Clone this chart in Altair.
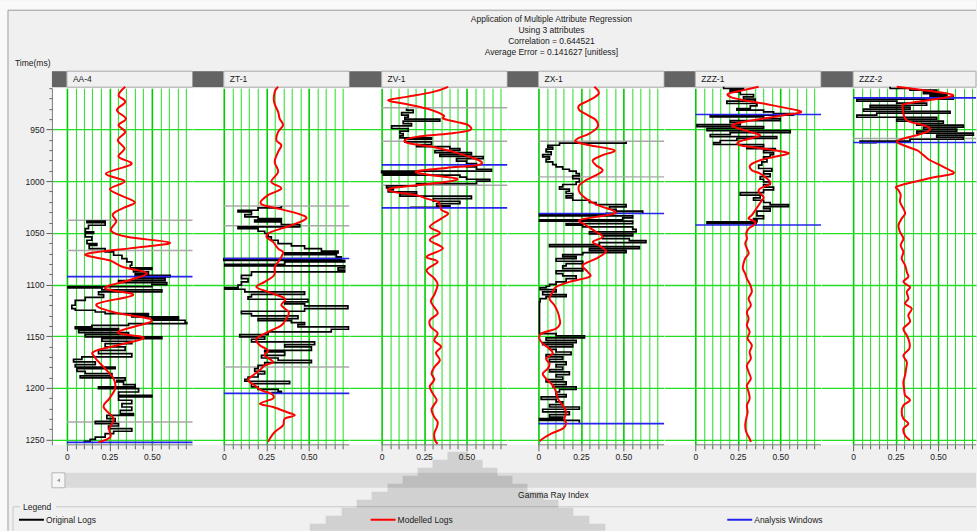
import altair as alt
import pandas as pd

# ---------------------------------------------------------------- text
TITLE_LINES = [
    "Application of Multiple Attribute Regression",
    "Using 3 attributes",
    "Correlation = 0.644521",
    "Average Error = 0.141627 [unitless]",
]
WELL_NAMES = ["AA-4", "ZT-1", "ZV-1", "ZX-1", "ZZZ-1", "ZZZ-2"]
SERIES = ["Original Logs", "Modelled Logs", "Analysis Windows", "Tops"]
X_TICKS = [0.0, 0.05, 0.1, 0.15, 0.2, 0.25, 0.3, 0.35, 0.4, 0.45, 0.5, 0.55, 0.6, 0.65, 0.7]
Y_TICKS = list(range(910, 1251, 10))

# ---------------------------------------------------------------- logs: (time ms, gamma ray index)
AA4_MODEL = [(908.7, 0.343), (916.8, 0.304), (923.2, 0.343), (931.3, 0.294), (939.4, 0.347), (945.8, 0.304),
             (952.3, 0.343), (960.3, 0.300), (968.4, 0.339), (976.5, 0.304), (983.5, 0.380), (992.5, 0.230),
             (1000, 0.340), (1007.5, 0.253), (1014, 0.320), (1020.5, 0.400), (1026, 0.330), (1032, 0.270),
             (1039, 0.290), (1048, 0.260), (1054, 0.360), (1059.5, 0.606), (1064, 0.420), (1070.5, 0.112),
             (1076.5, 0.250), (1083, 0.330), (1089, 0.470), (1095.5, 0.370), (1103.5, 0.224), (1110, 0.390),
             (1118.8, 0.176), (1127, 0.280), (1134.6, 0.500), (1146, 0.300), (1152, 0.450), (1163.6, 0.176),
             (1170, 0.163), (1181.3, 0.225), (1191, 0.275), (1200.6, 0.284), (1210.3, 0.249), (1218.4, 0.216),
             (1229.7, 0.275), (1239.4, 0.249), (1247.5, 0.255), (1252.5, 0.186)]
AA4_ORIG = [(1037.7, 0.225), (1038.7, 0.118), (1040, 0.225), (1042.6, 0.127), (1045.8, 0.108), (1049, 0.157),
            (1050.6, 0.108), (1053.9, 0.147), (1057.1, 0.118), (1060.3, 0.176), (1062, 0.131), (1065.2, 0.225),
            (1068.4, 0.275), (1071.6, 0.324), (1074.8, 0.353), (1078.1, 0.382), (1081.3, 0.373), (1083.9, 0.5),
            (1085.2, 0.392), (1087.7, 0.48), (1089.7, 0.402), (1091, 0.608), (1092.6, 0.402), (1094.2, 0.578),
            (1096.1, 0.304), (1098.1, 0.588), (1100, 0.5), (1101.9, 0.006), (1103.2, 0.206), (1105.2, 0.559),
            (1107.1, 0.186), (1109.7, 0.216), (1112.3, 0.108), (1115.2, 0.049), (1120, 0.029), (1123.2, 0.049),
            (1124.8, 0.167), (1126.5, 0.225), (1128.1, 0.48), (1129.7, 0.382), (1131.3, 0.657), (1132.9, 0.5),
            (1134.5, 0.696), (1136.8, 0.706), (1137.7, 0.363), (1139.4, 0.147), (1141, 0.049), (1142.6, 0.304),
            (1144.2, 0.069), (1146.5, 0.363), (1148.4, 0.108), (1150.6, 0.559), (1152.3, 0.206), (1154.8, 0.382),
            (1157.1, 0.225), (1160.3, 0.343), (1163.6, 0.186), (1166.8, 0.382), (1170, 0.088), (1172.3, 0.039),
            (1174.8, 0.167), (1177.4, 0.049), (1179.7, 0.284), (1181.3, 0.059), (1183.9, 0.108), (1186.1, 0.265),
            (1188.4, 0.078), (1190.3, 0.343), (1192.6, 0.294), (1194.2, 0.333), (1196.8, 0.402), (1199, 0.186),
            (1200.6, 0.422), (1203.9, 0.304), (1207.1, 0.5), (1208.7, 0.304), (1211.9, 0.382), (1215.2, 0.324),
            (1218.4, 0.382), (1221.6, 0.314), (1224.8, 0.392), (1226.5, 0.235), (1229.7, 0.284), (1232.3, 0.167),
            (1234.5, 0.304), (1236.8, 0.245), (1239.4, 0.382), (1241.9, 0.275), (1244.2, 0.225), (1247.5, 0.167),
            (1249.7, 0.137), (1251.6, 0.098)]
AA4_TOPS = [1037.7, 1067.1, 1232.9]
AA4_WINDOWS = [1092.3, 1252.6]

ZT1_MODEL = [(908.7, 0.320), (913.6, 0.300), (923.2, 0.296), (932.9, 0.320), (939.4, 0.329), (945.8, 0.349),
             (952.3, 0.320), (960.3, 0.310), (965.2, 0.339), (971.6, 0.320), (981.3, 0.300), (991, 0.320),
             (1000.6, 0.280), (1007.1, 0.339), (1013.5, 0.261), (1021.6, 0.218), (1026.5, 0.320), (1031.3, 0.437),
             (1036.1, 0.486), (1042.6, 0.398), (1049, 0.280), (1053.9, 0.251), (1058.7, 0.290), (1065.2, 0.320),
             (1068.4, 0.349), (1073.2, 0.339), (1078.1, 0.320), (1082.9, 0.300), (1091, 0.296), (1097.4, 0.241),
             (1102.3, 0.192), (1107.1, 0.261), (1113.5, 0.359), (1120, 0.339), (1126.5, 0.382), (1132.9, 0.369),
             (1139.4, 0.339), (1145.8, 0.261), (1152.3, 0.192), (1158.7, 0.212), (1163.6, 0.261), (1168.4, 0.241),
             (1174.8, 0.290), (1178.1, 0.241), (1182.9, 0.212), (1187.7, 0.173), (1192.6, 0.143), (1197.4, 0.182),
             (1202.3, 0.222), (1205.5, 0.280), (1210.3, 0.290), (1215.2, 0.212), (1218.4, 0.290), (1223.2, 0.369),
             (1226.5, 0.418), (1229.7, 0.359), (1236.1, 0.349), (1242.6, 0.300), (1249.1, 0.271), (1252.3, 0.261)]
ZT1_ORIG = [(1023.9, 0.339), (1025.8, 0.202), (1028.1, 0.084), (1029.7, 0.163), (1032.3, 0.124), (1034.5, 0.202),
            (1036.1, 0.339), (1037.7, 0.182), (1039.4, 0.339), (1041.9, 0.447), (1044.2, 0.084), (1045.8, 0.202),
            (1048.4, 0.241), (1050.6, 0.261), (1053.9, 0.280), (1057.1, 0.320), (1060.3, 0.398), (1062.6, 0.476),
            (1065.2, 0.575), (1067.7, 0.673), (1069.4, 0.359), (1071, 0.663), (1073.2, 0.692), (1074.8, 0.0),
            (1076.5, 0.712), (1078.1, 0.359), (1080.3, 0.006), (1081.9, 0.712), (1083.9, 0.673), (1086.1, 0.712),
            (1087.7, 0.163), (1091, 0.104), (1094.2, 0.143), (1097.4, 0.104), (1100.6, 0.084), (1102.9, 0.006),
            (1104.5, 0.124), (1107.1, 0.476), (1109.4, 0.163), (1111.9, 0.143), (1114.2, 0.496), (1116.8, 0.359),
            (1118.7, 0.476), (1120.6, 0.731), (1123.2, 0.476), (1125.8, 0.104), (1128.1, 0.163), (1130.3, 0.437),
            (1132.9, 0.202), (1134.8, 0.398), (1136.8, 0.476), (1138.7, 0.437), (1141, 0.735), (1143.2, 0.633),
            (1145.8, 0.261), (1148.4, 0.094), (1150.6, 0.241), (1152.9, 0.163), (1155.5, 0.535), (1158.1, 0.359),
            (1160.3, 0.516), (1163.6, 0.241), (1165.2, 0.359), (1168.4, 0.222), (1171, 0.320), (1173.2, 0.516),
            (1175.5, 0.241), (1178.1, 0.202), (1181.3, 0.182), (1183.9, 0.241), (1186.5, 0.202), (1189.4, 0.143),
            (1191.6, 0.124), (1193.5, 0.388), (1195.8, 0.163), (1199, 0.202), (1201.3, 0.320), (1203.2, 0.339),
            (1204.5, 0.280)]
ZT1_TOPS = [1023.9, 1043.2, 1179.7]
ZT1_WINDOWS = [1074.8, 1205.2]

ZV1_MODEL = [(908.7, 0.392), (913.6, 0.304), (918.4, 0.147), (921.6, 0.039), (924.8, 0.127), (929.7, 0.265),
             (936.1, 0.363), (939.4, 0.363), (942.6, 0.441), (945.8, 0.510), (950.6, 0.520), (953.9, 0.402),
             (957.1, 0.206), (960.3, 0.137), (963.6, 0.167), (966.8, 0.304), (971.6, 0.422), (976.5, 0.520),
             (981.3, 0.588), (984.5, 0.559), (987.1, 0.382), (990.3, 0.206), (993.5, 0.265), (997.4, 0.441),
             (1000.6, 0.382), (1003.9, 0.206), (1007.1, 0.049), (1010.3, 0.069), (1013.5, 0.206), (1016.8, 0.265),
             (1020, 0.333), (1023.2, 0.343), (1028, 0.353), (1031.3, 0.392), (1036, 0.353), (1044, 0.284),
             (1050, 0.343), (1057, 0.284), (1065, 0.361), (1073, 0.265), (1078, 0.330), (1086, 0.265),
             (1094, 0.310), (1100, 0.330), (1110, 0.310), (1116, 0.290), (1122, 0.310), (1128, 0.330),
             (1134.5, 0.284), (1141, 0.290), (1147, 0.330), (1154, 0.310), (1160, 0.350), (1166, 0.320),
             (1173, 0.343), (1180, 0.310), (1186, 0.294), (1192, 0.310), (1198.5, 0.284), (1205, 0.300),
             (1211.6, 0.324), (1216, 0.310), (1221, 0.294), (1228, 0.310), (1233, 0.330), (1238, 0.325),
             (1244, 0.310), (1250.5, 0.314), (1254, 0.330)]
ZV1_ORIG = [(929.7, 0.147), (931.3, 0.186), (933.6, 0.118), (936.1, 0.157), (938.1, 0.137), (940, 0.343),
            (941.9, 0.127), (944.2, 0.176), (946.5, 0.059), (949, 0.157), (951.6, 0.108), (953.9, 0.127),
            (956.1, 0.108), (958.1, 0.294), (959.4, 0.137), (961.9, 0.294), (964.5, 0.206), (966.5, 0.402),
            (968.4, 0.461), (970.3, 0.314), (972.3, 0.529), (974.2, 0.343), (976.1, 0.598), (978.1, 0.441),
            (980.6, 0.500), (982.9, 0.559), (984.5, 0.500), (986.1, 0.559), (988.4, 0.647), (990.3, 0.0),
            (991.6, 0.206), (992.9, 0.010), (994.2, 0.461), (996.1, 0.500), (998.1, 0.637), (1000, 0.559),
            (1002.3, 0.206), (1004.5, 0.029), (1006.5, 0.069), (1008.4, 0.039), (1010.3, 0.206), (1012.3, 0.108),
            (1014.5, 0.529), (1016.8, 0.304), (1019.4, 0.461), (1021.6, 0.324), (1023.9, 0.402), (1025.2, 0.167)]
ZV1_TOPS = [929.0, 961.3, 1003.9]
ZV1_WINDOWS = [984.2, 1025.8]

ZX1_MODEL = [(908.7, 0.329), (915.2, 0.355), (921.6, 0.300), (926.5, 0.241), (931.3, 0.241), (936.1, 0.290),
             (941, 0.339), (947.4, 0.349), (953.9, 0.300), (958.7, 0.231), (961.9, 0.222), (965.2, 0.300),
             (970, 0.447), (974.8, 0.378), (979.7, 0.320), (984.5, 0.339), (989.4, 0.378), (994.2, 0.339),
             (999, 0.280), (1003.9, 0.241), (1010.3, 0.241), (1016.8, 0.280), (1023.2, 0.349), (1028.1, 0.437),
             (1031.3, 0.447), (1034.5, 0.339), (1037.7, 0.241), (1042.6, 0.280), (1049, 0.339), (1053.9, 0.378),
             (1058.7, 0.320), (1063.5, 0.369), (1068.4, 0.398), (1074.8, 0.339), (1081.3, 0.261), (1087.7, 0.290),
             (1092.6, 0.300), (1097.4, 0.182), (1102.3, 0.104), (1107.1, 0.084), (1113.5, 0.065), (1120, 0.094),
             (1126.5, 0.114), (1132.9, 0.124), (1137.7, 0.127), (1142.6, 0.104), (1147.4, 0.016), (1152.3, 0.006),
             (1157.1, 0.025), (1161.9, 0.065), (1166.8, 0.084), (1171.6, 0.045), (1176.5, 0.065), (1181.3, 0.055),
             (1186.1, 0.025), (1191, 0.045), (1197.4, 0.084), (1203.9, 0.104), (1210.3, 0.114), (1216.8, 0.143),
             (1223.2, 0.163), (1229.7, 0.153), (1234.5, 0.163), (1239.4, 0.143), (1244.2, 0.075), (1249.1, 0.025),
             (1251.6, 0.006)]
ZX1_ORIG = [(961.9, 0.516), (963.2, 0.124), (965.2, 0.055), (967.1, 0.084), (969, 0.045), (971.6, 0.075),
            (974.2, 0.025), (976.5, 0.065), (978.7, 0.045), (981.3, 0.084), (983.9, 0.104), (986.1, 0.143),
            (988.4, 0.182), (990.3, 0.222), (992.6, 0.241), (994.8, 0.202), (997.4, 0.241), (1000.6, 0.222),
            (1003.2, 0.143), (1005.5, 0.124), (1007.7, 0.182), (1009.7, 0.163), (1011.9, 0.202), (1014.2, 0.163),
            (1016.1, 0.202), (1018.4, 0.300), (1020.6, 0.339), (1022.6, 0.516), (1024.8, 0.418), (1027.1, 0.457),
            (1029, 0.614), (1031, 0.398), (1032.3, 0.006), (1033.6, 0.555), (1035.5, 0.496), (1037.4, 0.006),
            (1038.7, 0.555), (1041, 0.163), (1042.6, 0.261), (1044.2, 0.555), (1046.5, 0.575), (1049, 0.300),
            (1051, 0.555), (1052.9, 0.378), (1055.5, 0.535), (1057.4, 0.633), (1059.4, 0.359), (1061.3, 0.065),
            (1063.2, 0.594), (1065.2, 0.300), (1067.1, 0.516), (1069, 0.261), (1071, 0.143), (1072.9, 0.222),
            (1074.8, 0.104), (1077.4, 0.261), (1079.7, 0.163), (1081.9, 0.143), (1084.5, 0.261), (1086.8, 0.104),
            (1089.4, 0.143), (1091.6, 0.222), (1094.2, 0.163), (1097.4, 0.104), (1099.7, 0.065), (1101.6, 0.045),
            (1102.9, 0.010), (1104.8, 0.104), (1107.1, 0.025), (1109.7, 0.163), (1111.6, 0.045), (1113.5, 0.010),
            (1116.8, 0.006), (1145.8, 0.006), (1147.4, 0.104), (1149.7, 0.271), (1151.6, 0.045), (1153.9, 0.222),
            (1156.1, 0.025), (1158.1, 0.202), (1160.3, 0.065), (1162.6, 0.104), (1165.2, 0.192), (1167.7, 0.045),
            (1170, 0.143), (1172.3, 0.065), (1174.8, 0.163), (1177.4, 0.104), (1179.7, 0.143), (1182.3, 0.065),
            (1184.5, 0.182), (1187.1, 0.104), (1189.4, 0.143), (1191.9, 0.045), (1194.2, 0.163), (1196.8, 0.084),
            (1199, 0.222), (1201.3, 0.124), (1203.9, 0.104), (1206.5, 0.163), (1208.7, 0.016), (1211, 0.104),
            (1213.5, 0.143), (1216.1, 0.065), (1218.4, 0.241), (1220.6, 0.025), (1223.2, 0.182), (1225.8, 0.065),
            (1228.1, 0.143), (1229.7, 0.006), (1231.3, 0.241), (1233.6, 0.241)]
ZX1_TOPS = [961.3, 995.8]
ZX1_WINDOWS = [1031.3, 1234.5]

ZZZ1_MODEL = [(908.7, 0.373), (911.9, 0.284), (915.2, 0.196), (918.4, 0.206), (921.6, 0.284), (924.8, 0.402),
              (928.1, 0.500), (931.3, 0.598), (933.6, 0.618), (936.1, 0.520), (939.4, 0.402), (942.6, 0.284),
              (945.8, 0.216), (949, 0.255), (952.3, 0.324), (955.5, 0.382), (958.7, 0.324), (961.9, 0.255),
              (965.2, 0.265), (968.4, 0.402), (971, 0.500), (973.2, 0.549), (976.5, 0.461), (979.7, 0.382),
              (984.5, 0.324), (989.4, 0.333), (992.6, 0.382), (997.4, 0.422), (1002.3, 0.441), (1007.1, 0.382),
              (1010.3, 0.373), (1015.2, 0.402), (1018.4, 0.392), (1023.2, 0.373), (1028.1, 0.353), (1032.9, 0.333),
              (1036.1, 0.314), (1039.4, 0.353), (1042.6, 0.343), (1045.8, 0.314), (1050.6, 0.300), (1055.5, 0.304),
              (1060.3, 0.294), (1065.2, 0.304), (1070, 0.314), (1074.8, 0.294), (1079.7, 0.284), (1084.5, 0.280),
              (1089.4, 0.294), (1094.2, 0.304), (1100.6, 0.324), (1107.1, 0.333), (1113.5, 0.314), (1120, 0.327),
              (1126.5, 0.304), (1132.9, 0.314), (1139.4, 0.304), (1145.8, 0.320), (1152.3, 0.308), (1158.7, 0.333),
              (1165.2, 0.320), (1171.6, 0.327), (1178.1, 0.304), (1184.5, 0.314), (1191, 0.327), (1197.4, 0.304),
              (1203.9, 0.314), (1210.3, 0.320), (1216.8, 0.304), (1223.2, 0.308), (1229.7, 0.300), (1236.1, 0.294),
              (1242.6, 0.300), (1249.1, 0.320), (1252.3, 0.327)]
ZZZ1_ORIG = [(908.7, 0.167), (910.3, 0.284), (911.9, 0.206), (913.6, 0.265), (916.1, 0.343), (918.4, 0.284),
             (920.6, 0.353), (922.6, 0.186), (924.8, 0.363), (927.1, 0.324), (929.7, 0.245), (931.3, 0.402),
             (932.9, 0.461), (934.5, 0.578), (936.1, 0.088), (937.7, 0.402), (939.4, 0.500), (941.3, 0.206),
             (943.2, 0.265), (945.2, 0.010), (947.1, 0.402), (949, 0.069), (951, 0.559), (952.9, 0.206),
             (954.8, 0.088), (956.8, 0.480), (958.7, 0.245), (960.6, 0.147), (962.6, 0.108), (964.5, 0.402),
             (966.5, 0.304), (968.4, 0.471), (970.3, 0.402), (972.3, 0.461), (974.2, 0.441), (976.5, 0.402),
             (978.7, 0.422), (981.3, 0.392), (984.5, 0.373), (987.7, 0.451), (990.3, 0.402), (992.9, 0.441),
             (995.5, 0.382), (998.1, 0.402), (1000.6, 0.441), (1003.2, 0.402), (1005.8, 0.461), (1008.4, 0.402),
             (1011, 0.265), (1013.5, 0.382), (1016.1, 0.343), (1018.4, 0.402), (1020.6, 0.441), (1022.6, 0.549),
             (1024.5, 0.402), (1026.5, 0.441), (1029, 0.363), (1031.3, 0.363), (1033.6, 0.402), (1036.1, 0.343),
             (1037.7, 0.363), (1039.4, 0.069), (1041, 0.363)]
ZZZ1_TOPS = []
ZZZ1_WINDOWS = [935.5, 1042.3]

ZZZ2_MODEL = [(908.7, 0.257), (911, 0.375), (913.6, 0.492), (916.8, 0.590), (920, 0.512), (923.2, 0.375),
              (925.8, 0.296), (929.7, 0.292), (934.5, 0.296), (939.4, 0.306), (942.6, 0.335), (945.8, 0.414),
              (949, 0.453), (952.3, 0.433), (955.5, 0.375), (958.7, 0.296), (961.9, 0.257), (965.2, 0.296),
              (970, 0.375), (974.8, 0.414), (979.7, 0.453), (984.5, 0.512), (989.4, 0.571), (992.6, 0.590),
              (995.5, 0.500), (999, 0.400), (1003, 0.300), (1005.6, 0.253), (1008.7, 0.267), (1013.5, 0.280),
              (1020, 0.276), (1026.5, 0.296), (1031.3, 0.306), (1036.1, 0.286), (1042.6, 0.267), (1049, 0.276),
              (1055.5, 0.296), (1062, 0.280), (1068.4, 0.296), (1074.8, 0.286), (1081.3, 0.306), (1087.7, 0.316),
              (1092.6, 0.325), (1097.4, 0.296), (1102.3, 0.335), (1107.1, 0.316), (1113.5, 0.325), (1118.4, 0.306),
              (1123.2, 0.345), (1129.7, 0.325), (1136.1, 0.335), (1142.6, 0.296), (1149, 0.316), (1155.5, 0.331),
              (1161.9, 0.331), (1168.4, 0.296), (1174.8, 0.316), (1181.3, 0.312), (1187.7, 0.306), (1194.2, 0.296),
              (1200.6, 0.300), (1207.1, 0.306), (1211.9, 0.335), (1216.8, 0.296), (1223.2, 0.286), (1229.7, 0.296),
              (1234.5, 0.325), (1239.4, 0.296), (1245.9, 0.306), (1250.6, 0.335)]
ZZZ2_ORIG = [(908.7, 0.218), (910.3, 0.335), (911.9, 0.492), (913.6, 0.414), (915.2, 0.551), (916.8, 0.453),
             (918.4, 0.590), (920.6, 0.022), (922.6, 0.257), (924.5, 0.433), (926.5, 0.100), (928.4, 0.335),
             (930.3, 0.061), (932.3, 0.571), (934.2, 0.139), (936.1, 0.022), (938.1, 0.492), (940, 0.257),
             (941.9, 0.531), (943.9, 0.375), (945.8, 0.649), (947.7, 0.414), (949.7, 0.610), (951.6, 0.375),
             (953.5, 0.708), (955.5, 0.492), (957.4, 0.649), (959.4, 0.335), (961.3, 0.041), (962.6, 0.139)]
ZZZ2_TOPS = [958.7]
ZZZ2_WINDOWS = [919.4, 962.6]

WELL_LOGS = [
    (AA4_MODEL, AA4_ORIG, AA4_TOPS, AA4_WINDOWS),
    (ZT1_MODEL, ZT1_ORIG, ZT1_TOPS, ZT1_WINDOWS),
    (ZV1_MODEL, ZV1_ORIG, ZV1_TOPS, ZV1_WINDOWS),
    (ZX1_MODEL, ZX1_ORIG, ZX1_TOPS, ZX1_WINDOWS),
    (ZZZ1_MODEL, ZZZ1_ORIG, ZZZ1_TOPS, ZZZ1_WINDOWS),
    (ZZZ2_MODEL, ZZZ2_ORIG, ZZZ2_TOPS, ZZZ2_WINDOWS),
]

# ---------------------------------------------------------------- layout / style
FONT = "Liberation Sans"
FS = 8.5
TXT = "#1a1a1a"
BG = "#f0f0f0"
K = 170.0                 # pixels per unit of gamma ray index
X_END = 0.74              # right end of each track
Y_DOMAIN = [910, 1255]
PLOT_H = 357
HEADER_H = 16
PANELS = [(141, 15), (157, 31), (158, 32), (157, 31), (157, 31), (155, 32)]  # (track width, gap left of 0)
FULL_W = 925              # width of the whole track row
ROW_TOP = 71              # page offset of the header row
TRACK_TOP = 88            # page offset of the track area
PAGE_H = 531

# shaded staircase over the lower window: (page y of step top, half width), centred on page x 458
SHADE_STEPS = [(452, 10), (460, 25), (468, 40), (476, 55), (484, 70), (492, 86), (500, 101),
               (508, 116), (516, 132), (524, 148)]
SHADE_CX = 458

GREEN = "#22dd22"
MAJOR_X = "abs(datum.value) < 0.001 || abs(datum.value - 0.25) < 0.001 || abs(datum.value - 0.5) < 0.001"
MAJOR_Y = "datum.value % 50 === 0"

color_scale = alt.Scale(domain=SERIES, range=["#000000", "#ff0000", "#2424ee", "#a8a8a8"])
legend = alt.Legend(
    title=None, orient="none", legendX=-34, legendY=506.5 - ROW_TOP, direction="horizontal", columns=3,
    columnPadding=270, symbolType="stroke", symbolSize=625, symbolStrokeWidth=2,
    labelFontSize=FS, labelFont=FONT, labelColor=TXT, labelOffset=1, padding=0,
    values=SERIES[:3],
)


def color_enc():
    return alt.Color("series:N", scale=color_scale, legend=legend)


def x_axis():
    return alt.Axis(
        values=X_TICKS, title=None, domain=False, grid=True,
        gridColor={"condition": {"test": MAJOR_X, "value": "#00cc00"}, "value": GREEN},
        gridWidth={"condition": {"test": MAJOR_X, "value": 1.6}, "value": 1},
        labelExpr=("abs(datum.value) < 0.001 ? '0' : abs(datum.value - 0.25) < 0.001 ? '0.25' : "
                   "abs(datum.value - 0.5) < 0.001 ? '0.50' : ''"),
        labelOverlap=False, labelFlush=False, labelFontSize=FS, labelColor=TXT, labelPadding=2,
        tickColor="#606060", tickSize={"condition": {"test": MAJOR_X, "value": 6}, "value": 4},
    )


def y_axis(first):
    common = dict(
        values=Y_TICKS, grid=True, gridColor=GREEN, gridWidth=1.3, title=None,
        gridOpacity={"condition": {"test": MAJOR_Y, "value": 1}, "value": 0},
    )
    if first:
        return alt.Axis(
            **common, format="d", labelExpr="datum.value % 50 === 0 ? datum.label : ''", labelFontSize=FS,
            labelColor=TXT, labelPadding=2, labelOverlap=False, labelFlush=False,
            tickColor="#606060", tickSize={"condition": {"test": MAJOR_Y, "value": 6}, "value": 3},
            domainColor="#808080",
        )
    return alt.Axis(**common, labels=False, ticks=False, domain=False)


def track_extent(idx):
    w, gap = PANELS[idx]
    xmin, xmax = -gap / K, (w - gap) / K
    return w, xmin, xmax, min(X_END, xmax)


one = pd.DataFrame({"k": [0]})


def box(x0, x1, y0, y1, fill, stroke=None, opacity=1.0):
    mark = {"fill": fill, "opacity": opacity}
    if stroke:
        mark["stroke"] = stroke
    return alt.Chart(one).mark_rect(**mark).encode(
        x=alt.value(x0), x2=alt.value(x1), y=alt.value(y0), y2=alt.value(y1))


def hline(x0, x1, y, color):
    return alt.Chart(one).mark_rule(color=color).encode(x=alt.value(x0), x2=alt.value(x1), y=alt.value(y))


def vline(x, y0, y1, color):
    return alt.Chart(one).mark_rule(color=color).encode(x=alt.value(x), y=alt.value(y0), y2=alt.value(y1))


def label(x, y, text, align="left", baseline="middle"):
    return alt.Chart(one).mark_text(align=align, baseline=baseline, lineHeight=11, fontSize=FS,
                                    color=TXT).encode(x=alt.value(x), y=alt.value(y), text=alt.value(text))


def window_top():
    # window frame, title block and depth label (page coordinates shifted to the header row)
    t = -ROW_TOP
    return [
        box(-52, FULL_W, t, t + 9, "#f9f9f9"),
        box(-52, -44, t + 9, PAGE_H - ROW_TOP, "#f9f9f9"),
        hline(-44, FULL_W, t + 10, "#a0a0a0"),
        vline(-44, t + 10, PAGE_H - ROW_TOP, "#a0a0a0"),
        label(500, t + 15, TITLE_LINES, align="center", baseline="top"),
        label(-37, t + 63, "Time(ms)"),
    ]


def window_bottom():
    # scroll bar, shared axis title and legend frame (page coordinates shifted to the track area)
    t = -TRACK_TOP
    parts = [
        box(0, FULL_W, t + 473, t + 488, "#dadada"),
        box(0, 13, t + 473, t + 488, "#f6f6f6", "#b8b8b8"),
        alt.Chart(one).mark_point(shape="triangle-left", filled=True, size=14, color="#707070").encode(
            x=alt.value(6.5), y=alt.value(t + 480.5)),
        hline(-39, -32, t + 507, "#c8c8c8"),
        hline(4, FULL_W, t + 507, "#c8c8c8"),
        vline(-39, t + 507, PAGE_H - TRACK_TOP, "#c8c8c8"),
    ]
    for i, (top, half) in enumerate(SHADE_STEPS):
        bottom = SHADE_STEPS[i + 1][0] if i + 1 < len(SHADE_STEPS) else PAGE_H
        cx = SHADE_CX - 52
        parts.append(box(cx - half, cx + half, t + top, t + bottom, "#000000", opacity=0.13))
    parts += [
        label(502, t + 495, "Gamma Ray Index", align="center"),
        label(-29, t + 507, "Legend"),
    ]
    return parts


def well_header(idx, name):
    w, xmin, xmax, x_end = track_extent(idx)
    hs = alt.Scale(domain=[xmin, xmax], nice=False, zero=False)
    src = alt.Chart(pd.DataFrame({"well": [name]}))
    tab = src.mark_rect(fill="#646464").encode(
        x=alt.X(datum=xmin, scale=hs, axis=None), x2=alt.datum(0))
    plate = src.mark_rect(fill=BG, stroke="#a9a9a9", strokeWidth=1).encode(
        x=alt.X(datum=0, scale=hs, axis=None), x2=alt.datum(x_end))
    name_text = src.mark_text(align="left", dx=6, fontSize=FS, color=TXT).encode(
        x=alt.X(datum=0, scale=hs, axis=None), text="well:N")
    extra = window_top() if idx == 0 else []
    return alt.layer(*extra, tab, plate, name_text).properties(width=w, height=HEADER_H)


def well_track(idx, model, orig, tops, windows):
    w, xmin, xmax, x_end = track_extent(idx)
    xs = alt.Scale(domain=[xmin, xmax], nice=False, zero=False)
    ys = alt.Scale(domain=Y_DOMAIN, reverse=True, nice=False, zero=False)
    xa, ya = x_axis(), y_axis(idx == 0)

    model_df = pd.DataFrame(model, columns=["time", "gr"]).assign(series="Modelled Logs")
    orig_df = pd.DataFrame(orig, columns=["time", "gr"]).assign(series="Original Logs")

    def marker_rules(times, series, width):
        df = pd.DataFrame({"time": times}).assign(series=series)
        return alt.Chart(df).mark_rule(strokeWidth=width).encode(
            x=alt.X(datum=0, scale=xs, axis=xa), x2=alt.datum(x_end),
            y=alt.Y("time:Q", scale=ys, axis=ya), color=color_enc())

    layers = []
    if tops:
        layers.append(marker_rules(tops, "Tops", 1.5))
    layers.append(
        alt.Chart(orig_df).mark_line(strokeWidth=1.7, interpolate="step-before").encode(
            x=alt.X("gr:Q", scale=xs, axis=xa), y=alt.Y("time:Q", scale=ys, axis=ya),
            order="time:Q", color=color_enc()))
    layers.append(marker_rules(windows, "Analysis Windows", 1.6))
    layers.append(
        alt.Chart(model_df).mark_line(strokeWidth=2, interpolate="cardinal").encode(
            x=alt.X("gr:Q", scale=xs, axis=xa), y=alt.Y("time:Q", scale=ys, axis=ya),
            order="time:Q", color=color_enc()))
    # bottom axis line of the track
    layers.append(
        alt.Chart(pd.DataFrame({"edge": [Y_DOMAIN[1]]})).mark_rule(color="#7a7a7a").encode(
            x=alt.X(datum=0, scale=xs, axis=xa), x2=alt.datum(x_end),
            y=alt.Y("edge:Q", scale=ys, axis=ya)))
    if idx == 0:
        layers = window_bottom() + layers
    return alt.layer(*layers).properties(
        width=w, height=PLOT_H, view=alt.ViewBackground(fill="white", strokeWidth=0))


headers = [well_header(i, WELL_NAMES[i]) for i in range(len(WELL_NAMES))]
tracks = [well_track(i, *WELL_LOGS[i]) for i in range(len(WELL_NAMES))]

chart = (
    alt.concat(*headers, *tracks, columns=len(WELL_NAMES), spacing={"row": 1, "column": 0},
               bounds="flush", align="each")
    .properties(background=BG, padding=0)
    .configure(font=FONT)
    .configure_view(strokeWidth=0)
)

chart.save("out.html", embed_options={"renderer": "svg", "actions": False})
